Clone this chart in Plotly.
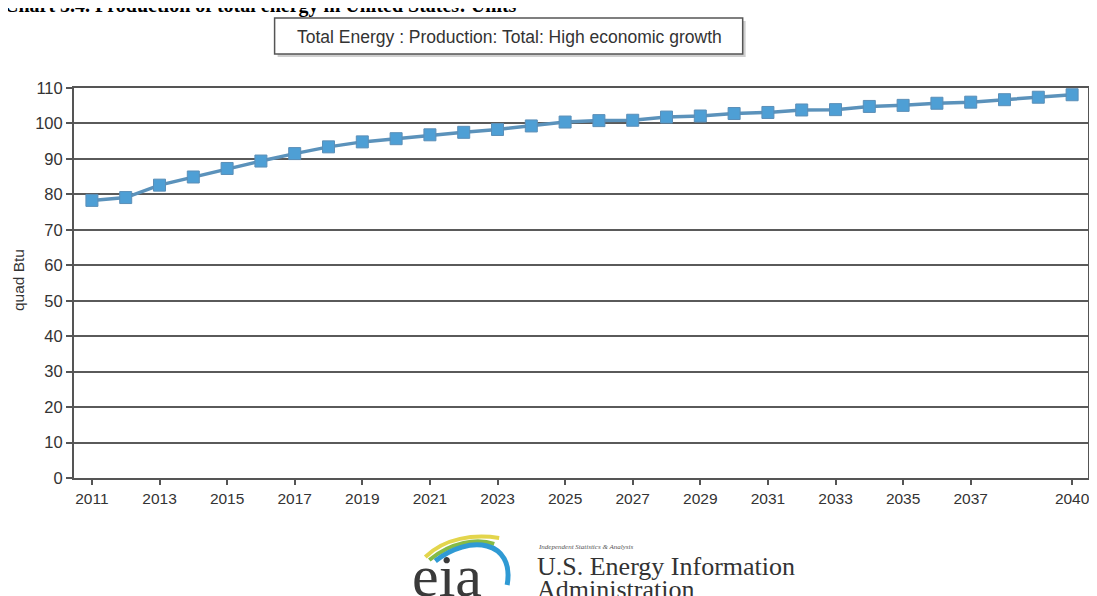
import plotly.graph_objects as go

# data (quad Btu)
years = list(range(2011, 2041))
production = [78.3, 79.1, 82.6, 84.9, 87.3, 89.4, 91.5, 93.4, 94.8, 95.7,
              96.8, 97.5, 98.3, 99.3, 100.4, 100.8, 100.9, 101.8, 102.1, 102.8,
              103.1, 103.8, 103.9, 104.8, 105.1, 105.7, 106.0, 106.7, 107.4, 108.1]
tick_years = list(range(2011, 2038, 2)) + [2040]
y_ticks = list(range(0, 111, 10))

series_name = "Total Energy : Production: Total: High economic growth"

# the page body has an 8px margin, so the figure is shrunk to fit the window
OFF = 8
W, H = 1097 - OFF, 596 - OFF
L, T = 74 - OFF, 88 - OFF
pw, ph = 1016, 390
R, B = W - L - pw, H - T - ph


def px(x):
    # page pixel -> paper x
    return (x - OFF - L) / pw


def py(y):
    # page pixel -> paper y
    return (T + ph - (y - OFF)) / ph


fig = go.Figure()
fig.add_trace(go.Scatter(
    x=years, y=production, mode="lines+markers", name=series_name,
    line=dict(color="#5b92bb", width=3.5),
    marker=dict(symbol="square", size=12, color="#4e9fd5",
                line=dict(color="#5b8fb8", width=1)),
    showlegend=False,
))

axis_col = "#555555"
fig.update_xaxes(
    range=[2010.47, 2040.47], tickvals=tick_years, ticktext=[str(t) for t in tick_years],
    showgrid=False, zeroline=False, showline=True, linecolor=axis_col, linewidth=2,
    mirror=True, ticks="outside", ticklen=5, tickcolor=axis_col, tickwidth=1.5,
    tickfont=dict(family="Liberation Sans, Arial", size=15.5, color="#333"),
)
fig.update_yaxes(
    range=[0, 110], tickvals=y_ticks, showgrid=True, gridcolor="#5a5a5a", gridwidth=2,
    zeroline=False, showline=True, linecolor=axis_col, linewidth=2, mirror=True,
    ticks="outside", ticklen=6, tickcolor=axis_col, tickwidth=1.5,
    tickfont=dict(family="Liberation Sans, Arial", size=16.5, color="#333"),
)

shapes = [
    # legend-like box with a soft shadow
    dict(type="rect", xref="paper", yref="paper", x0=px(278), x1=px(747), y0=py(57), y1=py(21),
         fillcolor="#cfcfcf", line=dict(width=0), layer="below"),
    dict(type="rect", xref="paper", yref="paper", x0=px(275), x1=px(744), y0=py(54), y1=py(18),
         fillcolor="white", line=dict(color="#555", width=1.5)),
]

# eia logo swooshes
swooshes = [
    ("#e3d54c", 4, [(426, 557), (445, 538), (475, 534), (500, 538)]),
    ("#86bb45", 4, [(430, 560), (452, 542), (478, 538), (495, 544)]),
    ("#2f9ad4", 5, [(436, 561), (470, 534), (516, 540), (508, 585)]),
]
for col, wd, pts in swooshes:
    (x0, y0), (c1x, c1y), (c2x, c2y), (x1, y1) = pts
    path = (f"M {px(x0)},{py(y0)} C {px(c1x)},{py(c1y)} "
            f"{px(c2x)},{py(c2y)} {px(x1)},{py(y1)}")
    shapes.append(dict(type="path", xref="paper", yref="paper", path=path,
                       line=dict(color=col, width=wd)))

serif = "Liberation Serif, Times New Roman"
annotations = [
    dict(text=series_name, x=px(510), y=py(37), xref="paper", yref="paper",
         xanchor="center", yanchor="middle", showarrow=False,
         font=dict(family="Liberation Sans, Arial", size=17.5, color="#333")),
    dict(text="quad Btu", x=px(18), y=py(280), xref="paper", yref="paper", textangle=-90,
         xanchor="center", yanchor="middle", showarrow=False,
         font=dict(family="Liberation Sans, Arial", size=15.5, color="#333")),
    dict(text="<b>Chart 5.4. Production of total energy in United States: Units</b>",
         x=px(2), y=py(19), xref="paper", yref="paper", xanchor="left", yanchor="bottom",
         showarrow=False, font=dict(family=serif, size=20, color="#000")),
    dict(text="eia", x=px(448), y=py(611), xref="paper", yref="paper",
         xanchor="center", yanchor="bottom", showarrow=False,
         font=dict(family=serif, size=60, color="#3a3a3a")),
    dict(text="<i>Independent Statistics &amp; Analysis</i>", x=px(537), y=py(547),
         xref="paper", yref="paper", xanchor="left", yanchor="middle", showarrow=False,
         font=dict(family=serif, size=7, color="#555")),
    dict(text="U.S. Energy Information", x=px(536), y=py(566), xref="paper", yref="paper",
         xanchor="left", yanchor="middle", showarrow=False,
         font=dict(family=serif, size=26, color="#333")),
    dict(text="Administration", x=px(536), y=py(589), xref="paper", yref="paper",
         xanchor="left", yanchor="middle", showarrow=False,
         font=dict(family=serif, size=26, color="#333")),
]

fig.update_layout(
    width=W, height=H,
    margin=dict(l=L, r=R, t=T, b=B),
    paper_bgcolor="white", plot_bgcolor="white",
    shapes=shapes, annotations=annotations,
)

fig.write_html("out.html")
